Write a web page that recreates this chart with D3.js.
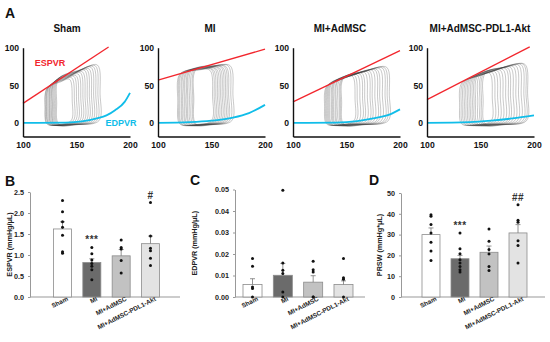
<!DOCTYPE html>
<html>
<head>
<meta charset="utf-8">
<script src="https://cdn.jsdelivr.net/npm/d3@7"></script>
<style>
  body { margin: 0; background: #fff; }
  text { font-family: Arial, "Liberation Sans", sans-serif; font-weight: bold; }
</style>
</head>
<body>
<svg id="fig" width="550" height="342"></svg>
<script>
// ---- data ----
const groups = ["Sham", "MI", "MI+AdMSC", "MI+AdMSC-PDL1-Akt"];

const pvVolTicks = [100, 150, 200];
const pvPresTicks = [0, 50, 100];

// ESPVR lines [volume, pressure] end points per group
const espvrLines = [
  [[100, 26], [180, 101]],
  [[100, 57], [200, 98]],
  [[100, 28], [200, 96]],
  [[100, 31], [196, 101]]
];

// EDPVR curves per group
const edpvrCurves = [
  [[100, 0], [140, 0.5], [155, 2], [169, 6], [178, 10], [186, 17], [195, 28], [200, 40]],
  [[100, 0], [130, 1], [150, 3], [170, 7], [185, 13], [200, 24]],
  [[100, 0], [140, 0.5], [160, 2.5], [175, 6], [190, 11], [200, 18]],
  [[100, 0], [140, 1], [160, 3], [180, 6], [200, 10]]
];

// PV loops: [end-systolic vol, end-diastolic vol, end-systolic pressure, peak pressure]
const shamLoops = [
  [121, 145, 46, 58], [121.5, 147, 47, 60], [122.5, 149, 48, 62], [123, 151, 49, 63],
  [124, 153, 50, 65], [125, 155, 51, 67], [125.5, 157, 52, 68], [126.5, 159, 53, 70],
  [127.5, 161, 54, 71], [128, 163, 55, 72], [129, 165, 56, 74], [130, 167, 57, 75],
  [131, 169, 58, 76], [132, 171, 59, 77]
];
const miLoops = [
  [119, 150, 65, 70], [120, 151.5, 66, 71], [121, 153, 66, 71], [122.5, 154.5, 67, 72],
  [123.5, 156, 67, 72], [125, 157.5, 68, 73], [126, 159, 68, 73], [127.5, 160.5, 69, 74],
  [128.5, 162, 69, 74], [130, 163.5, 70, 75], [131.5, 165, 70, 75], [133, 167, 71, 76],
  [134, 169, 71, 76]
];
const adLoops = [
  [130, 157, 49, 62], [131, 159, 50, 63], [132, 161.5, 51, 64], [133, 164, 52, 65],
  [134, 166, 52.5, 66], [135, 168.5, 53, 67], [136.5, 171, 54, 68], [137.5, 173, 55, 69],
  [138.5, 175.5, 55.5, 70], [140, 178, 56, 70.5], [141, 180, 57, 71], [142.5, 182.5, 58, 72],
  [144, 185, 58.5, 73], [145, 187, 59, 73.5], [146, 189, 60, 74]
];
const pdLoops = [
  [131, 160, 53, 66], [132.5, 162.5, 54, 67], [134, 165, 55, 68], [135.5, 167.5, 56, 69],
  [137, 170, 57, 70], [138.5, 172.5, 58, 71], [140, 175, 59, 72], [141.5, 177, 60, 73],
  [143, 179.5, 61, 74], [144.5, 182, 62, 75], [146, 184.5, 63, 76], [148, 187, 64, 77],
  [150, 189.5, 65, 77.5], [151.5, 191.5, 65.5, 78], [153, 193, 66, 78]
];
const allLoops = [shamLoops, miLoops, adLoops, pdLoops];

// bar charts
const espvrMean = [1.62, 0.82, 0.98, 1.27];
const espvrSem = [0.17, 0.09, 0.15, 0.18];
const espvrPts = [
  [2.30, 2.03, 1.79, 1.66, 1.47, 1.08, 1.04],
  [1.18, 1.03, 0.88, 0.80, 0.73, 0.65, 0.41],
  [1.36, 1.18, 1.14, 0.87, 0.57],
  [2.25, 1.45, 1.16, 1.10, 0.92, 0.75]
];
const espvrMarks = ["", "***", "", "#"];
const espvrTicks = [0, 0.5, 1, 1.5, 2, 2.5];

const edpvrMean = [0.0058, 0.0101, 0.0069, 0.0058];
const edpvrSem = [0.0027, 0.0055, 0.0030, 0.0017];
const edpvrPts = [
  [0.0179, 0.0143, 0.0047, 0.0039, 0.0],
  [0.0497, 0.0158, 0.0124, 0.0109, 0.0023, 0.0],
  [0.0166, 0.0127, 0.0116, 0.0, 0.0],
  [0.0179, 0.0090, 0.0082, 0.0]
];
const edpvrMarks = ["", "", "", ""];
const edpvrTicks = [0, 0.01, 0.02, 0.03, 0.04, 0.05];

const prswMean = [30.0, 18.4, 21.5, 30.8];
const prswSem = [3.2, 1.6, 3.0, 4.0];
const prswPts = [
  [39.6, 38.8, 34.8, 30.8, 26.3, 22.1, 17.6],
  [30.8, 23.2, 20.8, 17.9, 16.3, 14.7, 13.1, 12.0],
  [32.7, 26.8, 22.8, 20.7, 14.7, 12.8],
  [44.4, 36.9, 35.9, 27.1, 24.7, 16.3]
];
const prswMarks = ["", "***", "", "##"];
const prswTicks = [0, 10, 20, 30, 40, 50];

const barFills = ["#ffffff", "#6b6b6b", "#c2c2c2", "#e3e3e3"];

// ---- drawing ----
const svg = d3.select("#fig");

// panel letters
[["A", 5, 18], ["B", 5, 186], ["C", 190, 185], ["D", 369, 185]].forEach(l => {
  svg.append("text").attr("x", l[1]).attr("y", l[2]).attr("font-size", 14).attr("fill", "#111").text(l[0]);
});

// PV loop panels
const pvLeft = [23, 158, 293, 427];
const pvTitleX = [67, 210, 340, 480];
const pvY = d3.scaleLinear().domain([-18, 100]).range([136.5, 47.7]);

function loopPath(l, x) {
  const [esv, edv, pes, ptr] = l;
  const mid = (esv + edv) / 2;
  const pts = [
    [edv, 3], [edv + 1, ptr * 0.5], [edv - 1.5, ptr],
    [mid + 2, (pes + ptr) / 2 + 2.5], [esv + 1.5, pes],
    [esv - 0.5, pes * 0.45], [esv + 1.5, -1.5], [mid, -2.2]
  ];
  return d3.line().x(d => x(d[0])).y(d => pvY(d[1]))
    .curve(d3.curveCatmullRomClosed.alpha(0.5))(pts);
}

groups.forEach((g, i) => {
  const x = d3.scaleLinear().domain([100, 200]).range([pvLeft[i], pvLeft[i] + 107]);
  const p = svg.append("g");

  p.append("text").attr("x", pvTitleX[i]).attr("y", 31.5)
    .attr("text-anchor", "middle").attr("font-size", 10).attr("fill", "#111").text(g);

  p.selectAll("path.loop").data(allLoops[i]).join("path")
    .attr("class", "loop")
    .attr("d", d => loopPath(d, x))
    .attr("fill", "none").attr("stroke", "#333").attr("stroke-opacity", 0.45).attr("stroke-width", 0.6);

  p.append("path")
    .attr("d", d3.line().x(d => x(d[0])).y(d => pvY(d[1]))(espvrLines[i]))
    .attr("stroke", "#f2262d").attr("stroke-width", 1.3).attr("fill", "none");

  p.append("path")
    .attr("d", d3.line().x(d => x(d[0])).y(d => pvY(d[1])).curve(d3.curveMonotoneX)(edpvrCurves[i]))
    .attr("stroke", "#10bde9").attr("stroke-width", 1.8).attr("fill", "none");

  const ax = p.append("g").attr("transform", `translate(0,${pvY(-18)})`)
    .call(d3.axisBottom(x).tickValues(pvVolTicks).tickSize(0).tickPadding(5).tickSizeOuter(0));
  const ay = p.append("g").attr("transform", `translate(${pvLeft[i]},0)`)
    .call(d3.axisLeft(pvY).tickValues(pvPresTicks).tickSize(0).tickPadding(4).tickSizeOuter(0));
  [ax, ay].forEach(a => {
    a.select(".domain").attr("stroke", "#111").attr("stroke-width", 1.4);
    a.selectAll("text").attr("font-size", 8.6).attr("fill", "#111")
      .style("font-family", "Arial, 'Liberation Sans', sans-serif").style("font-weight", "bold");
  });

  if (i === 0) {
    p.append("text").attr("x", x(111)).attr("y", pvY(76)).attr("font-size", 9)
      .attr("fill", "#f2262d").text("ESPVR");
    p.append("text").attr("x", x(177)).attr("y", pvY(-3.5)).attr("font-size", 9)
      .attr("fill", "#10bde9").text("EDPVR");
  }
});

// bar chart panels
function barPanel(o) {
  const p = svg.append("g");
  const y = d3.scaleLinear().domain([0, o.ticks[o.ticks.length - 1]]).range([297, o.top]);
  const x = d3.scaleBand().domain(groups).range(o.band).paddingInner(o.pad).paddingOuter(0);
  const cx = g => x(g) + x.bandwidth() / 2;

  const ay = p.append("g").attr("transform", `translate(${o.axisX},0)`)
    .call(d3.axisLeft(y).tickValues(o.ticks).tickFormat(d3.format(o.fmt)).tickSize(2).tickPadding(4).tickSizeOuter(0));
  ay.select(".domain").attr("stroke", "#999");
  ay.selectAll(".tick line").attr("stroke", "#999");
  ay.selectAll("text").attr("font-size", 7.2).attr("fill", "#222")
    .style("font-family", "Arial, 'Liberation Sans', sans-serif").style("font-weight", "bold");

  p.append("line").attr("x1", o.axisX).attr("x2", o.axisEnd).attr("y1", y(0)).attr("y2", y(0))
    .attr("stroke", "#999");

  const ax = p.append("g").attr("transform", `translate(0,${y(0)})`)
    .call(d3.axisBottom(x).tickSize(0).tickPadding(3));
  ax.select(".domain").remove();
  ax.selectAll("text").attr("font-size", 6.4).attr("fill", "#222")
    .style("font-family", "Arial, 'Liberation Sans', sans-serif").style("font-weight", "bold")
    .attr("text-anchor", "end").attr("dx", "0.6em").attr("dy", "0.4em")
    .attr("transform", "rotate(-27)");

  p.selectAll("rect.bar").data(groups).join("rect")
    .attr("x", g => x(g)).attr("width", x.bandwidth())
    .attr("y", (g, i) => y(o.mean[i])).attr("height", (g, i) => y(0) - y(o.mean[i]))
    .attr("fill", (g, i) => barFills[i]).attr("stroke", "#8c8c8c").attr("stroke-width", 0.8);

  groups.forEach((g, i) => {
    const top = y(o.mean[i] + o.sem[i]);
    p.append("line").attr("x1", cx(g)).attr("x2", cx(g)).attr("y1", y(o.mean[i])).attr("y2", top)
      .attr("stroke", "#777").attr("stroke-width", 0.8);
    p.append("line").attr("x1", cx(g) - 2.5).attr("x2", cx(g) + 2.5).attr("y1", top).attr("y2", top)
      .attr("stroke", "#777").attr("stroke-width", 0.8);
    p.selectAll(null).data(o.pts[i]).join("circle")
      .attr("cx", cx(g)).attr("cy", d => y(d)).attr("r", 1.5).attr("fill", "#111");
    if (o.marks[i]) {
      p.append("text").attr("x", cx(g)).attr("y", y(d3.max(o.pts[i])) - 4)
        .attr("text-anchor", "middle").attr("font-size", 10).attr("letter-spacing", 0.5)
        .attr("fill", "#333").text(o.marks[i]);
    }
  });

  p.append("text").attr("transform", `translate(${o.labelX},${(y(0) + o.top) / 2}) rotate(-90)`)
    .attr("text-anchor", "middle").attr("font-size", 7.2).attr("fill", "#222").text(o.label);
}

barPanel({ axisX: 30, axisEnd: 180, top: 192, band: [53.5, 159.5], pad: 0.386,
  mean: espvrMean, sem: espvrSem, pts: espvrPts, marks: espvrMarks, ticks: espvrTicks, fmt: ".1f",
  label: "ESPVR (mmHg/\u03bcL)", labelX: 12 });
barPanel({ axisX: 235, axisEnd: 365, top: 189.5, band: [243, 353], pad: 0.373,
  mean: edpvrMean, sem: edpvrSem, pts: edpvrPts, marks: edpvrMarks, ticks: edpvrTicks, fmt: ".2f",
  label: "EDPVR (mmHg/\u03bcL)", labelX: 197 });
barPanel({ axisX: 401, axisEnd: 545, top: 193, band: [422, 527], pad: 0.38,
  mean: prswMean, sem: prswSem, pts: prswPts, marks: prswMarks, ticks: prswTicks, fmt: "d",
  label: "PRSW (mmHg*\u03bcL)", labelX: 382 });
</script>
</body>
</html>
